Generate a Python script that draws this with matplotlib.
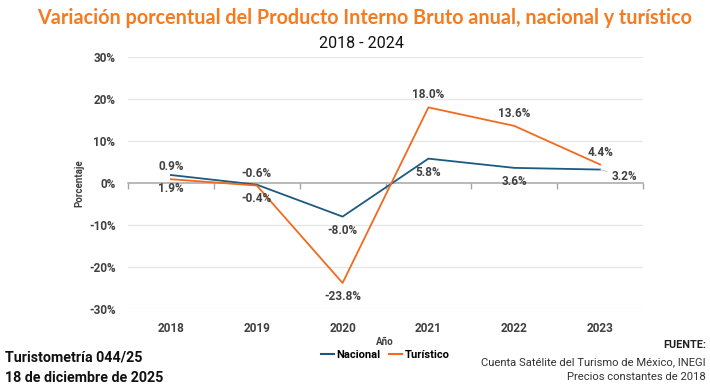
import matplotlib
matplotlib.use("Agg")
import matplotlib.pyplot as plt
from matplotlib.lines import Line2D

years = ["2018", "2019", "2020", "2021", "2022", "2023"]
nacional = [1.9, -0.4, -8.0, 5.8, 3.6, 3.2]
turistico = [0.9, -0.6, -23.8, 18.0, 13.6, 4.4]
yticks = [-30, -20, -10, 0, 10, 20, 30]

BLUE = "#1D5A80"
ORANGE = "#F26A1F"
TXT = "#404040"

plt.rcParams["font.family"] = ["Roboto", "DejaVu Sans"]

fig = plt.figure(figsize=(7.10, 3.91), dpi=100)
ax = fig.add_axes([128/710, 1-309/391, (643-128)/710, (309-57)/391])

x = list(range(len(years)))
ax.set_xlim(-0.5, len(years)-0.5)
ax.set_ylim(-30, 30)

for t in yticks:
    if t != 0:
        ax.axhline(t, color="#E6E6E6", lw=0.9, zorder=0)

ax.plot(x, nacional, color=BLUE, lw=1.3, zorder=3)
ax.plot(x, turistico, color=ORANGE, lw=1.3, zorder=3)

for s in ["top", "right", "left"]:
    ax.spines[s].set_visible(False)
ax.spines["bottom"].set_position(("data", 0))
ax.spines["bottom"].set_color("#A6A6A6")
ax.spines["bottom"].set_linewidth(1.1)
ax.set_xticks(x)
ax.set_xticklabels([])
ax.tick_params(axis="x", which="major", length=0)
ax.set_xticks([i - 0.5 for i in range(len(years)+1)], minor=True)
ax.tick_params(axis="x", which="minor", length=4, width=1, color="#A6A6A6", direction="out")

ax.set_yticks(yticks)
ax.set_yticklabels([f"{t}%" for t in yticks])
ax.tick_params(axis="y", length=0, pad=9, labelsize=8.5, labelcolor=TXT)
for lab in ax.get_yticklabels():
    lab.set_fontweight("bold")

sec = ax.secondary_xaxis(0.0)
sec.set_xticks(x)
sec.set_xticklabels(years, fontsize=8.5, fontweight="bold", color=TXT)
sec.tick_params(length=0, pad=9)
sec.spines["bottom"].set_visible(False)

ax.set_ylabel("Porcentaje", fontsize=7, fontweight="bold", color=TXT, labelpad=3)

# data labels
lab_kw = dict(fontsize=8.5, fontweight="bold", color=TXT, ha="center", va="center",
              textcoords="offset points")
for i, v in enumerate(nacional):
    if i == 5:
        ax.annotate(f"{v:.1f}%", (i, v), xytext=(8, -5), ha="left", va="center",
                    fontsize=8.5, fontweight="bold", color=TXT, textcoords="offset points",
                    arrowprops=dict(arrowstyle="-", color="#BFBFBF", lw=0.6, shrinkA=1, shrinkB=0))
    else:
        ax.annotate(f"{v:.1f}%", (i, v), xytext=(0, -10), **lab_kw)
for i, v in enumerate(turistico):
    dy = -10 if v < -10 else 9
    ax.annotate(f"{v:.1f}%", (i, v), xytext=(0, dy), **lab_kw)

fig.text(0.513, 1-18/391, "Variación porcentual del Producto Interno Bruto anual, nacional y turístico",
         ha="center", va="center", fontsize=14.2, fontweight="bold", color="#F47B20",
         family=["Lato", "DejaVu Sans"])
fig.text(0.509, 1-43/391, "2018 - 2024", ha="center", va="center", fontsize=11.5, color="#111111")

fig.text(385/710, 1-342/391, "Año", ha="center", va="center", fontsize=7, fontweight="bold", color=TXT)

handles = [Line2D([], [], color=BLUE, lw=1.5), Line2D([], [], color=ORANGE, lw=1.5)]
fig.legend(handles, ["Nacional", "Turístico"], loc="center", bbox_to_anchor=(385/710, 1-355/391),
           ncol=2, frameon=False, fontsize=8, handlelength=1.2, handletextpad=0.2,
           columnspacing=0.8, prop=dict(weight="bold", size=8))

fig.text(5/710, 1-358/391, "Turistometría 044/25", ha="left", va="center", fontsize=10.3,
         fontweight="bold", color="#111111")
fig.text(5/710, 1-378/391, "18 de diciembre de 2025", ha="left", va="center", fontsize=10.3,
         fontweight="bold", color="#111111")
fig.text(706/710, 1-345/391, "FUENTE:", ha="right", va="center", fontsize=7.8,
         fontweight="bold", color="#222222")
fig.text(706/710, 1-362/391, "Cuenta Satélite del Turismo de México, INEGI", ha="right", va="center",
         fontsize=8.1, color="#333333")
fig.text(706/710, 1-377/391, "Precios constantes de 2018", ha="right", va="center",
         fontsize=8.1, color="#333333")

fig.savefig("out.png", dpi=100, facecolor="white")
